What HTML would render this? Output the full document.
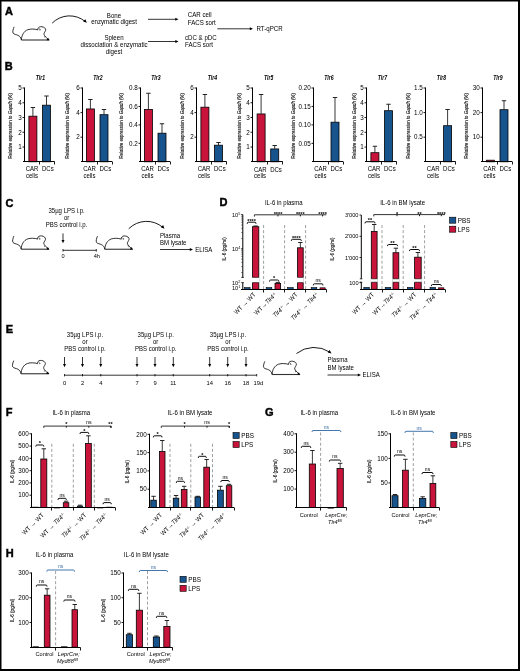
<!DOCTYPE html>
<html><head><meta charset="utf-8"><style>
html,body{margin:0;padding:0;background:#fff;}
svg{display:block;will-change:transform;}
svg text{font-family:"Liberation Sans", sans-serif;}
</style></head><body>
<svg width="520" height="671" viewBox="0 0 520 671" stroke="#000" stroke-width="0.8">
<defs><symbol id="mouse" overflow="visible"><path d="M1.2,0.4 C0.4,2 -0.6,5.5 0.2,6.6 C1.2,8 3.5,8 5.2,8.9 C6.8,9.8 8.2,11 8.5,13.5 M8.5,13.5 C8.6,9 11,4.5 15,3.2 C18,2.2 22,2.4 25,3.4 M25,3.4 C24.6,2 25.6,0.4 27.6,0.2 C29.6,0 31.8,0.8 32.6,2.4 C33.2,3.8 32.3,4.6 32,5.4 C31.2,6.6 30.6,7.6 31.6,9 C32.6,10.4 34.4,11.8 35.6,13.4 M26.2,2.3 C27.2,2.4 27.6,3.2 27,3.9 M31.4,10.2 L32.2,10.9" fill="none" stroke="#000" stroke-width="0.8"/><line x1="8.5" y1="13.5" x2="36.3" y2="13.5" stroke="#333" stroke-width="1.1"/><path d="M33.6,13.7 L36.7,13.7 L35.1,11.2 Z" fill="#000"/></symbol></defs>
<rect x="0" y="0" width="520" height="671" fill="#fff" stroke="none"/>
<g fill="#000" stroke="none" font-family="Liberation Sans, sans-serif">
<rect x="0" y="0" width="520" height="1.5" fill="#000"/>
<rect x="0" y="0" width="1.5" height="671" fill="#000"/>
<rect x="518" y="0" width="2" height="671" fill="#000"/>
<rect x="0" y="669" width="520" height="2" fill="#000"/>
<text x="5" y="14.6" font-size="11" font-weight="bold" stroke="#000" stroke-width="0.45">A</text>
<use href="#mouse" x="12.9" y="26.5"/>
<path d="M52.2,23.1 A24.5,24.5 0 0 1 85.2,21.5" stroke="#000" stroke-width="0.9" fill="none"/>
<path d="M86.8,22.8 L83.11,21.41 L85.36,19.13 Z" fill="#000" stroke="none"/>
<text transform="translate(114 17.5) scale(0.94 1)" font-size="6.53" text-anchor="middle">Bone</text>
<text transform="translate(114 24.3) scale(0.94 1)" font-size="6.53" text-anchor="middle">enzymatic digest</text>
<text transform="translate(114 39.6) scale(0.94 1)" font-size="6.53" text-anchor="middle">Spleen</text>
<text transform="translate(114 46.6) scale(0.94 1)" font-size="6.53" text-anchor="middle">dissociation &amp; enzymatic</text>
<text transform="translate(114 53.6) scale(0.94 1)" font-size="6.53" text-anchor="middle">digest</text>
<line stroke="#000" x1="148" y1="19.3" x2="176" y2="19.3"/>
<path d="M178.5,19.3 L175.3,17.8 L175.3,20.8 Z" fill="#000" stroke="none"/>
<line stroke="#000" x1="148" y1="41.5" x2="176" y2="41.5"/>
<path d="M178.5,41.5 L175.3,40 L175.3,43 Z" fill="#000" stroke="none"/>
<text transform="translate(187.8 17) scale(0.94 1)" font-size="6.53">CAR cell</text>
<text transform="translate(187.8 24.6) scale(0.94 1)" font-size="6.53">FACS sort</text>
<text transform="translate(185 39.6) scale(0.94 1)" font-size="6.53">cDC &amp; pDC</text>
<text transform="translate(185 47) scale(0.94 1)" font-size="6.53">FACS sort</text>
<line stroke="#000" x1="217.3" y1="28.8" x2="250.5" y2="28.8"/>
<path d="M253,28.8 L249.8,27.3 L249.8,30.3 Z" fill="#000" stroke="none"/>
<text transform="translate(256.5 31) scale(0.94 1)" font-size="6.53">RT-qPCR</text>
<text x="4.7" y="69.5" font-size="11" font-weight="bold" stroke="#000" stroke-width="0.45">B</text>
<text x="40.4" y="80.2" font-size="6.42" text-anchor="middle" font-weight="bold" font-style="italic" textLength="9.4" lengthAdjust="spacingAndGlyphs">Tlr1</text>
<text transform="translate(12.2 125.8) rotate(-90)" font-size="6.21" text-anchor="middle" stroke="#000" stroke-width="0.12" textLength="65.5" lengthAdjust="spacingAndGlyphs">Relative expression to <tspan font-style="italic">Gapdh</tspan> (%)</text>
<line x1="32.9" y1="116" x2="32.9" y2="107.5" stroke="#222" stroke-width="0.9"/>
<line x1="30.7" y1="107.5" x2="35.1" y2="107.5" stroke="#222" stroke-width="1"/>
<rect x="28.9" y="116.2" width="8" height="45.6" fill="#c8143a" stroke="#000" stroke-width="0.8"/>
<line x1="46.5" y1="105" x2="46.5" y2="96" stroke="#222" stroke-width="0.9"/>
<line x1="44.3" y1="96" x2="48.7" y2="96" stroke="#222" stroke-width="1"/>
<rect x="42.5" y="105.2" width="8" height="56.6" fill="#17548e" stroke="#000" stroke-width="0.8"/>
<line stroke="#000" x1="24.5" y1="87.5" x2="24.5" y2="161.8" stroke-width="1"/>
<line stroke="#000" x1="22.5" y1="88" x2="24.5" y2="88" stroke-width="0.9"/>
<text x="21.7" y="90.25" font-size="6.31" text-anchor="end">5</text>
<line stroke="#000" x1="22.5" y1="102.76" x2="24.5" y2="102.76" stroke-width="0.9"/>
<text x="21.7" y="105.01" font-size="6.31" text-anchor="end">4</text>
<line stroke="#000" x1="22.5" y1="117.52" x2="24.5" y2="117.52" stroke-width="0.9"/>
<text x="21.7" y="119.77" font-size="6.31" text-anchor="end">3</text>
<line stroke="#000" x1="22.5" y1="132.28" x2="24.5" y2="132.28" stroke-width="0.9"/>
<text x="21.7" y="134.53" font-size="6.31" text-anchor="end">2</text>
<line stroke="#000" x1="22.5" y1="147.04" x2="24.5" y2="147.04" stroke-width="0.9"/>
<text x="21.7" y="149.29" font-size="6.31" text-anchor="end">1</text>
<line stroke="#000" x1="23" y1="161.5" x2="54.5" y2="161.5" stroke-width="1"/>
<line stroke="#000" x1="39.5" y1="161.5" x2="39.5" y2="164.5" stroke-width="0.9"/>
<line stroke="#000" x1="54.5" y1="161.5" x2="54.5" y2="164.5" stroke-width="0.9"/>
<text transform="translate(32.1 170.7) scale(0.94 1)" font-size="6.42" text-anchor="middle">CAR</text>
<text transform="translate(47.8 170.7) scale(0.94 1)" font-size="6.42" text-anchor="middle">DCs</text>
<text transform="translate(31.9 177.6) scale(0.94 1)" font-size="6.42" text-anchor="middle">cells</text>
<text x="97.9" y="80.2" font-size="6.42" text-anchor="middle" font-weight="bold" font-style="italic" textLength="9.4" lengthAdjust="spacingAndGlyphs">Tlr2</text>
<text transform="translate(69.2 125.8) rotate(-90)" font-size="6.21" text-anchor="middle" stroke="#000" stroke-width="0.12" textLength="65.5" lengthAdjust="spacingAndGlyphs">Relative expression to <tspan font-style="italic">Gapdh</tspan> (%)</text>
<line x1="90.4" y1="108.75" x2="90.4" y2="99.5" stroke="#222" stroke-width="0.9"/>
<line x1="88.2" y1="99.5" x2="92.6" y2="99.5" stroke="#222" stroke-width="1"/>
<rect x="86.4" y="108.95" width="8" height="52.85" fill="#c8143a" stroke="#000" stroke-width="0.8"/>
<line x1="104" y1="114.5" x2="104" y2="109.5" stroke="#222" stroke-width="0.9"/>
<line x1="101.8" y1="109.5" x2="106.2" y2="109.5" stroke="#222" stroke-width="1"/>
<rect x="100" y="114.7" width="8" height="47.1" fill="#17548e" stroke="#000" stroke-width="0.8"/>
<line stroke="#000" x1="82.5" y1="87.5" x2="82.5" y2="161.8" stroke-width="1"/>
<line stroke="#000" x1="80.5" y1="88" x2="82.5" y2="88" stroke-width="0.9"/>
<text x="79.7" y="90.25" font-size="6.31" text-anchor="end">6</text>
<line stroke="#000" x1="80.5" y1="112.6" x2="82.5" y2="112.6" stroke-width="0.9"/>
<text x="79.7" y="114.85" font-size="6.31" text-anchor="end">4</text>
<line stroke="#000" x1="80.5" y1="137.2" x2="82.5" y2="137.2" stroke-width="0.9"/>
<text x="79.7" y="139.45" font-size="6.31" text-anchor="end">2</text>
<line stroke="#000" x1="81" y1="161.5" x2="112" y2="161.5" stroke-width="1"/>
<line stroke="#000" x1="97.5" y1="161.5" x2="97.5" y2="164.5" stroke-width="0.9"/>
<line stroke="#000" x1="112.5" y1="161.5" x2="112.5" y2="164.5" stroke-width="0.9"/>
<text transform="translate(89.6 170.7) scale(0.94 1)" font-size="6.42" text-anchor="middle">CAR</text>
<text transform="translate(105.3 170.7) scale(0.94 1)" font-size="6.42" text-anchor="middle">DCs</text>
<text transform="translate(89.4 177.6) scale(0.94 1)" font-size="6.42" text-anchor="middle">cells</text>
<text x="155.9" y="80.2" font-size="6.42" text-anchor="middle" font-weight="bold" font-style="italic" textLength="9.4" lengthAdjust="spacingAndGlyphs">Tlr3</text>
<text transform="translate(123 125.8) rotate(-90)" font-size="6.21" text-anchor="middle" stroke="#000" stroke-width="0.12" textLength="65.5" lengthAdjust="spacingAndGlyphs">Relative expression to <tspan font-style="italic">Gapdh</tspan> (%)</text>
<line x1="148.4" y1="109.25" x2="148.4" y2="93.25" stroke="#222" stroke-width="0.9"/>
<line x1="146.2" y1="93.25" x2="150.6" y2="93.25" stroke="#222" stroke-width="1"/>
<rect x="144.4" y="109.45" width="8" height="52.35" fill="#c8143a" stroke="#000" stroke-width="0.8"/>
<line x1="162" y1="133" x2="162" y2="123.75" stroke="#222" stroke-width="0.9"/>
<line x1="159.8" y1="123.75" x2="164.2" y2="123.75" stroke="#222" stroke-width="1"/>
<rect x="158" y="133.2" width="8" height="28.6" fill="#17548e" stroke="#000" stroke-width="0.8"/>
<line stroke="#000" x1="140.5" y1="87.5" x2="140.5" y2="161.8" stroke-width="1"/>
<line stroke="#000" x1="138.5" y1="88" x2="140.5" y2="88" stroke-width="0.9"/>
<text x="137.7" y="90.25" font-size="6.31" text-anchor="end">0.8</text>
<line stroke="#000" x1="138.5" y1="106.45" x2="140.5" y2="106.45" stroke-width="0.9"/>
<text x="137.7" y="108.7" font-size="6.31" text-anchor="end">0.6</text>
<line stroke="#000" x1="138.5" y1="124.9" x2="140.5" y2="124.9" stroke-width="0.9"/>
<text x="137.7" y="127.15" font-size="6.31" text-anchor="end">0.4</text>
<line stroke="#000" x1="138.5" y1="143.35" x2="140.5" y2="143.35" stroke-width="0.9"/>
<text x="137.7" y="145.6" font-size="6.31" text-anchor="end">0.2</text>
<line stroke="#000" x1="139" y1="161.5" x2="170" y2="161.5" stroke-width="1"/>
<line stroke="#000" x1="155.5" y1="161.5" x2="155.5" y2="164.5" stroke-width="0.9"/>
<line stroke="#000" x1="170.5" y1="161.5" x2="170.5" y2="164.5" stroke-width="0.9"/>
<text transform="translate(147.6 170.7) scale(0.94 1)" font-size="6.42" text-anchor="middle">CAR</text>
<text transform="translate(163.3 170.7) scale(0.94 1)" font-size="6.42" text-anchor="middle">DCs</text>
<text transform="translate(147.4 177.6) scale(0.94 1)" font-size="6.42" text-anchor="middle">cells</text>
<text x="212.4" y="80.2" font-size="6.42" text-anchor="middle" font-weight="bold" font-style="italic" textLength="9.4" lengthAdjust="spacingAndGlyphs">Tlr4</text>
<text transform="translate(184.3 125.8) rotate(-90)" font-size="6.21" text-anchor="middle" stroke="#000" stroke-width="0.12" textLength="65.5" lengthAdjust="spacingAndGlyphs">Relative expression to <tspan font-style="italic">Gapdh</tspan> (%)</text>
<line x1="204.9" y1="107" x2="204.9" y2="94.5" stroke="#222" stroke-width="0.9"/>
<line x1="202.7" y1="94.5" x2="207.1" y2="94.5" stroke="#222" stroke-width="1"/>
<rect x="200.9" y="107.2" width="8" height="54.6" fill="#c8143a" stroke="#000" stroke-width="0.8"/>
<line x1="218.5" y1="145" x2="218.5" y2="142.5" stroke="#222" stroke-width="0.9"/>
<line x1="216.3" y1="142.5" x2="220.7" y2="142.5" stroke="#222" stroke-width="1"/>
<rect x="214.5" y="145.2" width="8" height="16.6" fill="#17548e" stroke="#000" stroke-width="0.8"/>
<line stroke="#000" x1="196.5" y1="87.5" x2="196.5" y2="161.8" stroke-width="1"/>
<line stroke="#000" x1="194.5" y1="88" x2="196.5" y2="88" stroke-width="0.9"/>
<text x="193.7" y="90.25" font-size="6.31" text-anchor="end">6</text>
<line stroke="#000" x1="194.5" y1="112.6" x2="196.5" y2="112.6" stroke-width="0.9"/>
<text x="193.7" y="114.85" font-size="6.31" text-anchor="end">4</text>
<line stroke="#000" x1="194.5" y1="137.2" x2="196.5" y2="137.2" stroke-width="0.9"/>
<text x="193.7" y="139.45" font-size="6.31" text-anchor="end">2</text>
<line stroke="#000" x1="195" y1="161.5" x2="226.5" y2="161.5" stroke-width="1"/>
<line stroke="#000" x1="211.5" y1="161.5" x2="211.5" y2="164.5" stroke-width="0.9"/>
<line stroke="#000" x1="226.5" y1="161.5" x2="226.5" y2="164.5" stroke-width="0.9"/>
<text transform="translate(204.1 170.7) scale(0.94 1)" font-size="6.42" text-anchor="middle">CAR</text>
<text transform="translate(219.8 170.7) scale(0.94 1)" font-size="6.42" text-anchor="middle">DCs</text>
<text transform="translate(203.9 177.6) scale(0.94 1)" font-size="6.42" text-anchor="middle">cells</text>
<text x="268.6" y="80.2" font-size="6.42" text-anchor="middle" font-weight="bold" font-style="italic" textLength="9.4" lengthAdjust="spacingAndGlyphs">Tlr5</text>
<text transform="translate(241.2 125.8) rotate(-90)" font-size="6.21" text-anchor="middle" stroke="#000" stroke-width="0.12" textLength="65.5" lengthAdjust="spacingAndGlyphs">Relative expression to <tspan font-style="italic">Gapdh</tspan> (%)</text>
<line x1="261.1" y1="113.75" x2="261.1" y2="94.5" stroke="#222" stroke-width="0.9"/>
<line x1="258.9" y1="94.5" x2="263.3" y2="94.5" stroke="#222" stroke-width="1"/>
<rect x="257.1" y="113.95" width="8" height="47.85" fill="#c8143a" stroke="#000" stroke-width="0.8"/>
<line x1="274.7" y1="148.75" x2="274.7" y2="145.5" stroke="#222" stroke-width="0.9"/>
<line x1="272.5" y1="145.5" x2="276.9" y2="145.5" stroke="#222" stroke-width="1"/>
<rect x="270.7" y="148.95" width="8" height="12.85" fill="#17548e" stroke="#000" stroke-width="0.8"/>
<line stroke="#000" x1="252.5" y1="87.5" x2="252.5" y2="161.8" stroke-width="1"/>
<line stroke="#000" x1="250.5" y1="88" x2="252.5" y2="88" stroke-width="0.9"/>
<text x="249.7" y="90.25" font-size="6.31" text-anchor="end">5</text>
<line stroke="#000" x1="250.5" y1="102.76" x2="252.5" y2="102.76" stroke-width="0.9"/>
<text x="249.7" y="105.01" font-size="6.31" text-anchor="end">4</text>
<line stroke="#000" x1="250.5" y1="117.52" x2="252.5" y2="117.52" stroke-width="0.9"/>
<text x="249.7" y="119.77" font-size="6.31" text-anchor="end">3</text>
<line stroke="#000" x1="250.5" y1="132.28" x2="252.5" y2="132.28" stroke-width="0.9"/>
<text x="249.7" y="134.53" font-size="6.31" text-anchor="end">2</text>
<line stroke="#000" x1="250.5" y1="147.04" x2="252.5" y2="147.04" stroke-width="0.9"/>
<text x="249.7" y="149.29" font-size="6.31" text-anchor="end">1</text>
<line stroke="#000" x1="251" y1="161.5" x2="282.7" y2="161.5" stroke-width="1"/>
<line stroke="#000" x1="267.5" y1="161.5" x2="267.5" y2="164.5" stroke-width="0.9"/>
<line stroke="#000" x1="282.5" y1="161.5" x2="282.5" y2="164.5" stroke-width="0.9"/>
<text transform="translate(260.3 171.5) scale(0.94 1)" font-size="6.42" text-anchor="middle">CAR</text>
<text transform="translate(276 171.5) scale(0.94 1)" font-size="6.42" text-anchor="middle">DCs</text>
<text transform="translate(260.1 178.4) scale(0.94 1)" font-size="6.42" text-anchor="middle">cells</text>
<text x="328.9" y="80.2" font-size="6.42" text-anchor="middle" font-weight="bold" font-style="italic" textLength="9.4" lengthAdjust="spacingAndGlyphs">Tlr6</text>
<text transform="translate(295 125.8) rotate(-90)" font-size="6.21" text-anchor="middle" stroke="#000" stroke-width="0.12" textLength="65.5" lengthAdjust="spacingAndGlyphs">Relative expression to <tspan font-style="italic">Gapdh</tspan> (%)</text>
<line x1="335" y1="122" x2="335" y2="97.5" stroke="#222" stroke-width="0.9"/>
<line x1="332.8" y1="97.5" x2="337.2" y2="97.5" stroke="#222" stroke-width="1"/>
<rect x="331" y="122.2" width="8" height="39.6" fill="#17548e" stroke="#000" stroke-width="0.8"/>
<line stroke="#000" x1="313.5" y1="87.5" x2="313.5" y2="161.8" stroke-width="1"/>
<line stroke="#000" x1="311.5" y1="88" x2="313.5" y2="88" stroke-width="0.9"/>
<text x="310.7" y="90.25" font-size="6.31" text-anchor="end">0.20</text>
<line stroke="#000" x1="311.5" y1="106.45" x2="313.5" y2="106.45" stroke-width="0.9"/>
<text x="310.7" y="108.7" font-size="6.31" text-anchor="end">0.15</text>
<line stroke="#000" x1="311.5" y1="124.9" x2="313.5" y2="124.9" stroke-width="0.9"/>
<text x="310.7" y="127.15" font-size="6.31" text-anchor="end">0.10</text>
<line stroke="#000" x1="311.5" y1="143.35" x2="313.5" y2="143.35" stroke-width="0.9"/>
<text x="310.7" y="145.6" font-size="6.31" text-anchor="end">0.05</text>
<line stroke="#000" x1="312" y1="161.5" x2="343" y2="161.5" stroke-width="1"/>
<line stroke="#000" x1="328.5" y1="161.5" x2="328.5" y2="164.5" stroke-width="0.9"/>
<line stroke="#000" x1="343.5" y1="161.5" x2="343.5" y2="164.5" stroke-width="0.9"/>
<text transform="translate(320.6 170.7) scale(0.94 1)" font-size="6.42" text-anchor="middle">CAR</text>
<text transform="translate(336.3 170.7) scale(0.94 1)" font-size="6.42" text-anchor="middle">DCs</text>
<text transform="translate(320.4 177.6) scale(0.94 1)" font-size="6.42" text-anchor="middle">cells</text>
<text x="382.4" y="80.2" font-size="6.42" text-anchor="middle" font-weight="bold" font-style="italic" textLength="9.4" lengthAdjust="spacingAndGlyphs">Tlr7</text>
<text transform="translate(355.7 125.8) rotate(-90)" font-size="6.21" text-anchor="middle" stroke="#000" stroke-width="0.12" textLength="65.5" lengthAdjust="spacingAndGlyphs">Relative expression to <tspan font-style="italic">Gapdh</tspan> (%)</text>
<line x1="374.9" y1="152.5" x2="374.9" y2="146.25" stroke="#222" stroke-width="0.9"/>
<line x1="372.7" y1="146.25" x2="377.1" y2="146.25" stroke="#222" stroke-width="1"/>
<rect x="370.9" y="152.7" width="8" height="9.1" fill="#c8143a" stroke="#000" stroke-width="0.8"/>
<line x1="388.5" y1="110.5" x2="388.5" y2="104.25" stroke="#222" stroke-width="0.9"/>
<line x1="386.3" y1="104.25" x2="390.7" y2="104.25" stroke="#222" stroke-width="1"/>
<rect x="384.5" y="110.7" width="8" height="51.1" fill="#17548e" stroke="#000" stroke-width="0.8"/>
<line stroke="#000" x1="366.5" y1="87.5" x2="366.5" y2="161.8" stroke-width="1"/>
<line stroke="#000" x1="364.5" y1="88" x2="366.5" y2="88" stroke-width="0.9"/>
<text x="363.7" y="90.25" font-size="6.31" text-anchor="end">5</text>
<line stroke="#000" x1="364.5" y1="102.76" x2="366.5" y2="102.76" stroke-width="0.9"/>
<text x="363.7" y="105.01" font-size="6.31" text-anchor="end">4</text>
<line stroke="#000" x1="364.5" y1="117.52" x2="366.5" y2="117.52" stroke-width="0.9"/>
<text x="363.7" y="119.77" font-size="6.31" text-anchor="end">3</text>
<line stroke="#000" x1="364.5" y1="132.28" x2="366.5" y2="132.28" stroke-width="0.9"/>
<text x="363.7" y="134.53" font-size="6.31" text-anchor="end">2</text>
<line stroke="#000" x1="364.5" y1="147.04" x2="366.5" y2="147.04" stroke-width="0.9"/>
<text x="363.7" y="149.29" font-size="6.31" text-anchor="end">1</text>
<line stroke="#000" x1="365" y1="161.5" x2="396.5" y2="161.5" stroke-width="1"/>
<line stroke="#000" x1="381.5" y1="161.5" x2="381.5" y2="164.5" stroke-width="0.9"/>
<line stroke="#000" x1="396.5" y1="161.5" x2="396.5" y2="164.5" stroke-width="0.9"/>
<text transform="translate(374.1 170.7) scale(0.94 1)" font-size="6.42" text-anchor="middle">CAR</text>
<text transform="translate(389.8 170.7) scale(0.94 1)" font-size="6.42" text-anchor="middle">DCs</text>
<text transform="translate(373.9 177.6) scale(0.94 1)" font-size="6.42" text-anchor="middle">cells</text>
<text x="441.5" y="80.2" font-size="6.42" text-anchor="middle" font-weight="bold" font-style="italic" textLength="9.4" lengthAdjust="spacingAndGlyphs">Tlr8</text>
<text transform="translate(410 125.8) rotate(-90)" font-size="6.21" text-anchor="middle" stroke="#000" stroke-width="0.12" textLength="65.5" lengthAdjust="spacingAndGlyphs">Relative expression to <tspan font-style="italic">Gapdh</tspan> (%)</text>
<line x1="447.6" y1="125.5" x2="447.6" y2="109.5" stroke="#222" stroke-width="0.9"/>
<line x1="445.4" y1="109.5" x2="449.8" y2="109.5" stroke="#222" stroke-width="1"/>
<rect x="443.6" y="125.7" width="8" height="36.1" fill="#17548e" stroke="#000" stroke-width="0.8"/>
<line stroke="#000" x1="425.5" y1="87.5" x2="425.5" y2="161.8" stroke-width="1"/>
<line stroke="#000" x1="423.5" y1="88" x2="425.5" y2="88" stroke-width="0.9"/>
<text x="422.7" y="90.25" font-size="6.31" text-anchor="end">1.5</text>
<line stroke="#000" x1="423.5" y1="112.6" x2="425.5" y2="112.6" stroke-width="0.9"/>
<text x="422.7" y="114.85" font-size="6.31" text-anchor="end">1.0</text>
<line stroke="#000" x1="423.5" y1="137.2" x2="425.5" y2="137.2" stroke-width="0.9"/>
<text x="422.7" y="139.45" font-size="6.31" text-anchor="end">0.5</text>
<line stroke="#000" x1="424" y1="161.5" x2="455.6" y2="161.5" stroke-width="1"/>
<line stroke="#000" x1="440.5" y1="161.5" x2="440.5" y2="164.5" stroke-width="0.9"/>
<line stroke="#000" x1="455.5" y1="161.5" x2="455.5" y2="164.5" stroke-width="0.9"/>
<text transform="translate(433.2 170.7) scale(0.94 1)" font-size="6.42" text-anchor="middle">CAR</text>
<text transform="translate(448.9 170.7) scale(0.94 1)" font-size="6.42" text-anchor="middle">DCs</text>
<text transform="translate(433 177.6) scale(0.94 1)" font-size="6.42" text-anchor="middle">cells</text>
<text x="497.9" y="80.2" font-size="6.42" text-anchor="middle" font-weight="bold" font-style="italic" textLength="9.4" lengthAdjust="spacingAndGlyphs">Tlr9</text>
<text transform="translate(467.5 125.8) rotate(-90)" font-size="6.21" text-anchor="middle" stroke="#000" stroke-width="0.12" textLength="65.5" lengthAdjust="spacingAndGlyphs">Relative expression to <tspan font-style="italic">Gapdh</tspan> (%)</text>
<rect x="486.4" y="160.2" width="8" height="1.6" fill="#c8143a" stroke="#000" stroke-width="0.8"/>
<line x1="504" y1="109.5" x2="504" y2="100.75" stroke="#222" stroke-width="0.9"/>
<line x1="501.8" y1="100.75" x2="506.2" y2="100.75" stroke="#222" stroke-width="1"/>
<rect x="500" y="109.7" width="8" height="52.1" fill="#17548e" stroke="#000" stroke-width="0.8"/>
<line stroke="#000" x1="482.5" y1="87.5" x2="482.5" y2="161.8" stroke-width="1"/>
<line stroke="#000" x1="480.5" y1="88" x2="482.5" y2="88" stroke-width="0.9"/>
<text x="479.7" y="90.25" font-size="6.31" text-anchor="end">30</text>
<line stroke="#000" x1="480.5" y1="112.6" x2="482.5" y2="112.6" stroke-width="0.9"/>
<text x="479.7" y="114.85" font-size="6.31" text-anchor="end">20</text>
<line stroke="#000" x1="480.5" y1="137.2" x2="482.5" y2="137.2" stroke-width="0.9"/>
<text x="479.7" y="139.45" font-size="6.31" text-anchor="end">10</text>
<line stroke="#000" x1="481" y1="161.5" x2="512" y2="161.5" stroke-width="1"/>
<line stroke="#000" x1="497.5" y1="161.5" x2="497.5" y2="164.5" stroke-width="0.9"/>
<line stroke="#000" x1="512.5" y1="161.5" x2="512.5" y2="164.5" stroke-width="0.9"/>
<text transform="translate(489.6 170.7) scale(0.94 1)" font-size="6.42" text-anchor="middle">CAR</text>
<text transform="translate(505.3 170.7) scale(0.94 1)" font-size="6.42" text-anchor="middle">DCs</text>
<text transform="translate(489.4 177.6) scale(0.94 1)" font-size="6.42" text-anchor="middle">cells</text>
<text x="5.5" y="206.5" font-size="11" font-weight="bold" stroke="#000" stroke-width="0.45">C</text>
<use href="#mouse" x="12.7" y="235.7"/>
<use href="#mouse" x="96.3" y="235.75"/>
<text transform="translate(66.6 213.1) scale(0.94 1)" font-size="6.42" text-anchor="middle">35µg LPS i.p.</text>
<text transform="translate(66.6 220.2) scale(0.94 1)" font-size="6.42" text-anchor="middle">or</text>
<text transform="translate(66.6 227.1) scale(0.94 1)" font-size="6.42" text-anchor="middle">PBS control i.p.</text>
<line stroke="#000" x1="63" y1="233.4" x2="63" y2="240.8"/>
<path d="M63,243.3 L61.5,240.1 L64.5,240.1 Z" fill="#000" stroke="none"/>
<line stroke="#000" x1="63" y1="250.3" x2="96.3" y2="250.3"/>
<line stroke="#000" x1="63" y1="249" x2="63" y2="251.6"/>
<line stroke="#000" x1="96.3" y1="249" x2="96.3" y2="251.6"/>
<text transform="translate(63 257.7) scale(0.94 1)" font-size="5.99" text-anchor="middle">0</text>
<text transform="translate(96.8 257.7) scale(0.94 1)" font-size="5.99" text-anchor="middle">4h</text>
<path d="M128.75,228.75 A25.05,25.05 0 0 1 162.9,227.45" stroke="#000" stroke-width="0.9" fill="none"/>
<path d="M164.5,228.75 L160.84,227.3 L163.12,225.06 Z" fill="#000" stroke="none"/>
<text transform="translate(160 237.6) scale(0.94 1)" font-size="6.42">Plasma</text>
<text transform="translate(160 244.6) scale(0.94 1)" font-size="6.42">BM lysate</text>
<line stroke="#000" x1="160" y1="249.5" x2="190.5" y2="249.5"/>
<path d="M193,249.5 L189.8,248 L189.8,251 Z" fill="#000" stroke="none"/>
<text transform="translate(195.2 251.6) scale(0.94 1)" font-size="6.42">ELISA</text>
<text x="219.5" y="206.3" font-size="11" font-weight="bold" stroke="#000" stroke-width="0.45">D</text>
<text transform="translate(283.8 204.7) scale(0.94 1)" font-size="6.42" text-anchor="middle">IL-6 in plasma</text>
<text transform="translate(225.6 249) rotate(-90)" font-size="6.21" text-anchor="middle" stroke="#000" stroke-width="0.12" textLength="23.4" lengthAdjust="spacingAndGlyphs">IL-6 (pg/ml)</text>
<line x1="263.6" y1="225" x2="263.6" y2="289" stroke="#888" stroke-dasharray="3,2.1"/>
<line x1="284.6" y1="225" x2="284.6" y2="289" stroke="#888" stroke-dasharray="3,2.1"/>
<line x1="305.6" y1="225" x2="305.6" y2="289" stroke="#888" stroke-dasharray="3,2.1"/>
<rect x="244.5" y="287.6" width="5.6" height="1.7" fill="#17548e" stroke="#000" stroke-width="0.6"/>
<rect x="266.2" y="287.6" width="5.6" height="1.7" fill="#17548e" stroke="#000" stroke-width="0.6"/>
<rect x="287.6" y="287.6" width="5.6" height="1.7" fill="#17548e" stroke="#000" stroke-width="0.6"/>
<rect x="311.2" y="287.6" width="5.6" height="1.7" fill="#17548e" stroke="#000" stroke-width="0.6"/>
<line x1="255.6" y1="226.5" x2="255.6" y2="226" stroke="#222" stroke-width="0.9"/>
<line x1="253.4" y1="226" x2="257.8" y2="226" stroke="#222" stroke-width="1"/>
<rect x="252.4" y="226.7" width="6.4" height="62.6" fill="#c8143a" stroke="#000" stroke-width="0.8"/>
<rect x="251.8" y="277.4" width="7.6" height="5.2" fill="#fff" stroke="none"/>
<line stroke="#000" x1="252.4" y1="277.4" x2="258.8" y2="277.4" stroke-width="0.6"/>
<line stroke="#000" x1="252.4" y1="282.6" x2="258.8" y2="282.6" stroke-width="0.6"/>
<line x1="277.8" y1="283.2" x2="277.8" y2="282.4" stroke="#222" stroke-width="0.9"/>
<line x1="275.6" y1="282.4" x2="280" y2="282.4" stroke="#222" stroke-width="1"/>
<rect x="275" y="283.4" width="5.6" height="5.9" fill="#c8143a" stroke="#000" stroke-width="0.8"/>
<line x1="300.35" y1="247.6" x2="300.35" y2="242.5" stroke="#222" stroke-width="0.9"/>
<line x1="298.15" y1="242.5" x2="302.55" y2="242.5" stroke="#222" stroke-width="1"/>
<rect x="297.5" y="247.8" width="5.7" height="41.5" fill="#c8143a" stroke="#000" stroke-width="0.8"/>
<rect x="296.9" y="277.4" width="6.9" height="5.2" fill="#fff" stroke="none"/>
<line stroke="#000" x1="297.5" y1="277.4" x2="303.2" y2="277.4" stroke-width="0.6"/>
<line stroke="#000" x1="297.5" y1="282.6" x2="303.2" y2="282.6" stroke-width="0.6"/>
<rect x="320" y="287.8" width="5.2" height="1.5" fill="#c8143a" stroke="#000" stroke-width="0.6"/>
<line stroke="#000" x1="242.8" y1="214.5" x2="242.8" y2="277.4" stroke-width="1"/>
<line stroke="#000" x1="242.8" y1="282.6" x2="242.8" y2="289.3" stroke-width="1"/>
<line stroke="#000" x1="241.3" y1="277.4" x2="243.8" y2="277.4"/>
<line stroke="#000" x1="241.3" y1="282.6" x2="243.8" y2="282.6"/>
<line stroke="#000" x1="241" y1="214.7" x2="242.8" y2="214.7"/>
<text transform="translate(238.2 216.7) scale(0.94 1)" font-size="5.99" text-anchor="end">10</text>
<text transform="translate(238.3 214.5) scale(0.94 1)" font-size="4.07">5</text>
<line stroke="#000" x1="241" y1="248.8" x2="242.8" y2="248.8"/>
<text transform="translate(238.2 250.8) scale(0.94 1)" font-size="5.99" text-anchor="end">10</text>
<text transform="translate(238.3 248.6) scale(0.94 1)" font-size="4.07">4</text>
<text transform="translate(238.2 284.8) scale(0.94 1)" font-size="5.99" text-anchor="end">10</text>
<text transform="translate(238.3 282.6) scale(0.94 1)" font-size="4.07">2</text>
<text transform="translate(238.2 290.2) scale(0.94 1)" font-size="5.99" text-anchor="end">10</text>
<text transform="translate(238.3 288) scale(0.94 1)" font-size="4.07">1</text>
<line stroke="#000" x1="241" y1="289.5" x2="326.4" y2="289.5" stroke-width="1"/>
<line stroke="#000" x1="263.5" y1="289.5" x2="263.5" y2="292.5" stroke-width="0.9"/>
<line stroke="#000" x1="284.5" y1="289.5" x2="284.5" y2="292.5" stroke-width="0.9"/>
<line stroke="#000" x1="305.5" y1="289.5" x2="305.5" y2="292.5" stroke-width="0.9"/>
<line stroke="#000" x1="326.5" y1="289.5" x2="326.5" y2="292.5" stroke-width="0.9"/>
<line stroke="#000" x1="241.3" y1="238.56" x2="242.5" y2="238.56" stroke-width="0.6"/>
<line stroke="#000" x1="241.3" y1="272.56" x2="242.5" y2="272.56" stroke-width="0.6"/>
<line stroke="#000" x1="241.3" y1="232.58" x2="242.5" y2="232.58" stroke-width="0.6"/>
<line stroke="#000" x1="241.3" y1="266.58" x2="242.5" y2="266.58" stroke-width="0.6"/>
<line stroke="#000" x1="241.3" y1="228.33" x2="242.5" y2="228.33" stroke-width="0.6"/>
<line stroke="#000" x1="241.3" y1="262.33" x2="242.5" y2="262.33" stroke-width="0.6"/>
<line stroke="#000" x1="241.3" y1="225.04" x2="242.5" y2="225.04" stroke-width="0.6"/>
<line stroke="#000" x1="241.3" y1="259.04" x2="242.5" y2="259.04" stroke-width="0.6"/>
<line stroke="#000" x1="241.3" y1="222.34" x2="242.5" y2="222.34" stroke-width="0.6"/>
<line stroke="#000" x1="241.3" y1="256.34" x2="242.5" y2="256.34" stroke-width="0.6"/>
<line stroke="#000" x1="241.3" y1="220.07" x2="242.5" y2="220.07" stroke-width="0.6"/>
<line stroke="#000" x1="241.3" y1="254.07" x2="242.5" y2="254.07" stroke-width="0.6"/>
<line stroke="#000" x1="241.3" y1="218.09" x2="242.5" y2="218.09" stroke-width="0.6"/>
<line stroke="#000" x1="241.3" y1="252.09" x2="242.5" y2="252.09" stroke-width="0.6"/>
<line stroke="#000" x1="241.3" y1="216.36" x2="242.5" y2="216.36" stroke-width="0.6"/>
<line stroke="#000" x1="241.3" y1="250.36" x2="242.5" y2="250.36" stroke-width="0.6"/>
<path d="M247.2,223.8 Q247.2,222.2 248.2,222.2 L255,222.2 Q256,222.2 256,223.8" stroke="#000" stroke-width="0.95" fill="none"/>
<text transform="translate(251.6 222.6) scale(0.94 1)" font-size="5.99" text-anchor="middle" font-weight="bold">****</text>
<path d="M269.5,281.6 Q269.5,280 270.5,280 L277.8,280 Q278.8,280 278.8,281.6" stroke="#000" stroke-width="0.95" fill="none"/>
<text transform="translate(274.15 280.4) scale(0.94 1)" font-size="5.99" text-anchor="middle" font-weight="bold">*</text>
<path d="M291.3,240.9 Q291.3,239.3 292.3,239.3 L300.3,239.3 Q301.3,239.3 301.3,240.9" stroke="#000" stroke-width="0.95" fill="none"/>
<text transform="translate(296.3 239.7) scale(0.94 1)" font-size="5.99" text-anchor="middle" font-weight="bold">****</text>
<path d="M313.3,285.4 Q313.3,283.8 314.3,283.8 L322,283.8 Q323,283.8 323,285.4" stroke="#000" stroke-width="0.95" fill="none"/>
<text transform="translate(318.15 282.1) scale(0.94 1)" font-size="5.35" text-anchor="middle">ns</text>
<path d="M254.4,216.6 L254.4,214.8 L326.3,214.8" stroke="#333" stroke-width="1" fill="none"/>
<line stroke="#000" x1="278" y1="214.8" x2="278" y2="216.4" stroke-width="0.9"/>
<text transform="translate(278 215.8) scale(0.94 1)" font-size="5.99" text-anchor="middle" font-weight="bold">****</text>
<line stroke="#000" x1="300.3" y1="214.8" x2="300.3" y2="216.4" stroke-width="0.9"/>
<text transform="translate(300.3 215.8) scale(0.94 1)" font-size="5.99" text-anchor="middle" font-weight="bold">****</text>
<line stroke="#000" x1="322.6" y1="214.8" x2="322.6" y2="216.4" stroke-width="0.9"/>
<text transform="translate(322.6 215.8) scale(0.94 1)" font-size="5.99" text-anchor="middle" font-weight="bold">****</text>
<text transform="translate(256.2 295) rotate(-45) scale(0.94 1)" font-size="6.42" text-anchor="end">WT <tspan font-weight="bold">→</tspan> WT</text>
<text transform="translate(277.1 295) rotate(-45) scale(0.94 1)" font-size="6.42" text-anchor="end">WT<tspan font-weight="bold">→</tspan><tspan font-style="italic">Tlr4</tspan><tspan font-size="3.6" dy="-2">-/-</tspan></text>
<text transform="translate(298.1 295) rotate(-45) scale(0.94 1)" font-size="6.42" text-anchor="end"><tspan font-style="italic">Tlr4</tspan><tspan font-size="3.6" dy="-2">-/-</tspan><tspan dy="2"> </tspan><tspan font-weight="bold">→</tspan> WT</text>
<text transform="translate(319 295) rotate(-45) scale(0.94 1)" font-size="6.42" text-anchor="end"><tspan font-style="italic">Tlr4</tspan><tspan font-size="3.6" dy="-2">-/-</tspan><tspan dy="2"> </tspan><tspan font-weight="bold">→</tspan> <tspan font-style="italic">Tlr4</tspan><tspan font-size="3.6" dy="-2">-/-</tspan></text>
<text transform="translate(402.6 204.6) scale(0.94 1)" font-size="6.42" text-anchor="middle">IL-6 in BM lysate</text>
<text transform="translate(334.2 249.1) rotate(-90)" font-size="6.21" text-anchor="middle" stroke="#000" stroke-width="0.12" textLength="23.4" lengthAdjust="spacingAndGlyphs">IL-6 (pg/ml)</text>
<line x1="382" y1="225" x2="382" y2="289" stroke="#888" stroke-dasharray="3,2.1"/>
<line x1="403.2" y1="225" x2="403.2" y2="289" stroke="#888" stroke-dasharray="3,2.1"/>
<line x1="424.6" y1="225" x2="424.6" y2="289" stroke="#888" stroke-dasharray="3,2.1"/>
<rect x="363.8" y="287.4" width="5.6" height="1.9" fill="#17548e" stroke="#000" stroke-width="0.6"/>
<rect x="385.2" y="287.4" width="5.6" height="1.9" fill="#17548e" stroke="#000" stroke-width="0.6"/>
<rect x="407.4" y="287.4" width="5.6" height="1.9" fill="#17548e" stroke="#000" stroke-width="0.6"/>
<rect x="430" y="287.4" width="5.6" height="1.9" fill="#17548e" stroke="#000" stroke-width="0.6"/>
<line x1="374.2" y1="231.3" x2="374.2" y2="224.5" stroke="#222" stroke-width="0.9"/>
<line x1="372" y1="224.5" x2="376.4" y2="224.5" stroke="#222" stroke-width="1"/>
<rect x="371.3" y="231.5" width="5.8" height="57.8" fill="#c8143a" stroke="#000" stroke-width="0.8"/>
<rect x="370.7" y="278.8" width="7" height="3.4" fill="#fff" stroke="none"/>
<line stroke="#000" x1="371.3" y1="278.8" x2="377.1" y2="278.8" stroke-width="0.6"/>
<line stroke="#000" x1="371.3" y1="282.2" x2="377.1" y2="282.2" stroke-width="0.6"/>
<line x1="395.9" y1="252.5" x2="395.9" y2="248.2" stroke="#222" stroke-width="0.9"/>
<line x1="393.7" y1="248.2" x2="398.1" y2="248.2" stroke="#222" stroke-width="1"/>
<rect x="393" y="252.7" width="5.8" height="36.6" fill="#c8143a" stroke="#000" stroke-width="0.8"/>
<rect x="392.4" y="278.8" width="7" height="3.4" fill="#fff" stroke="none"/>
<line stroke="#000" x1="393" y1="278.8" x2="398.8" y2="278.8" stroke-width="0.6"/>
<line stroke="#000" x1="393" y1="282.2" x2="398.8" y2="282.2" stroke-width="0.6"/>
<line x1="417.9" y1="257" x2="417.9" y2="252.5" stroke="#222" stroke-width="0.9"/>
<line x1="415.7" y1="252.5" x2="420.1" y2="252.5" stroke="#222" stroke-width="1"/>
<rect x="414.6" y="257.2" width="6.6" height="32.1" fill="#c8143a" stroke="#000" stroke-width="0.8"/>
<rect x="414" y="278.8" width="7.8" height="3.4" fill="#fff" stroke="none"/>
<line stroke="#000" x1="414.6" y1="278.8" x2="421.2" y2="278.8" stroke-width="0.6"/>
<line stroke="#000" x1="414.6" y1="282.2" x2="421.2" y2="282.2" stroke-width="0.6"/>
<rect x="438.3" y="287.8" width="5.6" height="1.5" fill="#c8143a" stroke="#000" stroke-width="0.6"/>
<line stroke="#000" x1="361.3" y1="215" x2="361.3" y2="278.8" stroke-width="1"/>
<line stroke="#000" x1="361.3" y1="282.2" x2="361.3" y2="289.3" stroke-width="1"/>
<line stroke="#000" x1="359.8" y1="278.8" x2="362.3" y2="278.8"/>
<line stroke="#000" x1="359.8" y1="282.2" x2="362.3" y2="282.2"/>
<line stroke="#000" x1="359.5" y1="215" x2="361.3" y2="215"/>
<text transform="translate(358.5 217) scale(0.94 1)" font-size="5.99" text-anchor="end">3'000</text>
<line stroke="#000" x1="359.5" y1="236.3" x2="361.3" y2="236.3"/>
<text transform="translate(358.5 238.3) scale(0.94 1)" font-size="5.99" text-anchor="end">2'000</text>
<line stroke="#000" x1="359.5" y1="257.5" x2="361.3" y2="257.5"/>
<text transform="translate(358.5 259.5) scale(0.94 1)" font-size="5.99" text-anchor="end">1'000</text>
<line stroke="#000" x1="359.5" y1="282.6" x2="361.3" y2="282.6"/>
<text transform="translate(358.5 284.6) scale(0.94 1)" font-size="5.99" text-anchor="end">100</text>
<line stroke="#000" x1="360" y1="289.5" x2="445.2" y2="289.5" stroke-width="1"/>
<line stroke="#000" x1="382.5" y1="289.5" x2="382.5" y2="292.5" stroke-width="0.9"/>
<line stroke="#000" x1="403.5" y1="289.5" x2="403.5" y2="292.5" stroke-width="0.9"/>
<line stroke="#000" x1="424.5" y1="289.5" x2="424.5" y2="292.5" stroke-width="0.9"/>
<line stroke="#000" x1="445.5" y1="289.5" x2="445.5" y2="292.5" stroke-width="0.9"/>
<path d="M365,223.4 Q365,221.8 366,221.8 L374,221.8 Q375,221.8 375,223.4" stroke="#000" stroke-width="0.95" fill="none"/>
<text transform="translate(370 222.2) scale(0.94 1)" font-size="5.99" text-anchor="middle" font-weight="bold">**</text>
<path d="M387.5,246.1 Q387.5,244.5 388.5,244.5 L396.5,244.5 Q397.5,244.5 397.5,246.1" stroke="#000" stroke-width="0.95" fill="none"/>
<text transform="translate(392.5 244.9) scale(0.94 1)" font-size="5.99" text-anchor="middle" font-weight="bold">**</text>
<path d="M409.5,251.1 Q409.5,249.5 410.5,249.5 L418.5,249.5 Q419.5,249.5 419.5,251.1" stroke="#000" stroke-width="0.95" fill="none"/>
<text transform="translate(414.5 249.9) scale(0.94 1)" font-size="5.99" text-anchor="middle" font-weight="bold">**</text>
<path d="M431.3,286.1 Q431.3,284.5 432.3,284.5 L440.3,284.5 Q441.3,284.5 441.3,286.1" stroke="#000" stroke-width="0.95" fill="none"/>
<text transform="translate(436.3 282.8) scale(0.94 1)" font-size="5.35" text-anchor="middle">ns</text>
<path d="M373.8,216.4 L373.8,214.6 L445,214.6" stroke="#333" stroke-width="1" fill="none"/>
<line stroke="#000" x1="397" y1="214.6" x2="397" y2="216.2" stroke-width="0.9"/>
<text transform="translate(397 215.6) scale(0.94 1)" font-size="5.99" text-anchor="middle" font-weight="bold">*</text>
<line stroke="#000" x1="419.5" y1="214.6" x2="419.5" y2="216.2" stroke-width="0.9"/>
<text transform="translate(419.5 215.6) scale(0.94 1)" font-size="5.99" text-anchor="middle" font-weight="bold">**</text>
<line stroke="#000" x1="441.3" y1="214.6" x2="441.3" y2="216.2" stroke-width="0.9"/>
<text transform="translate(441.3 215.6) scale(0.94 1)" font-size="5.99" text-anchor="middle" font-weight="bold">****</text>
<text transform="translate(374.65 295) rotate(-45) scale(0.94 1)" font-size="6.42" text-anchor="end">WT <tspan font-weight="bold">→</tspan> WT</text>
<text transform="translate(395.6 295) rotate(-45) scale(0.94 1)" font-size="6.42" text-anchor="end">WT<tspan font-weight="bold">→</tspan><tspan font-style="italic">Tlr4</tspan><tspan font-size="3.6" dy="-2">-/-</tspan></text>
<text transform="translate(416.9 295) rotate(-45) scale(0.94 1)" font-size="6.42" text-anchor="end"><tspan font-style="italic">Tlr4</tspan><tspan font-size="3.6" dy="-2">-/-</tspan><tspan dy="2"> </tspan><tspan font-weight="bold">→</tspan> WT</text>
<text transform="translate(437.9 295) rotate(-45) scale(0.94 1)" font-size="6.42" text-anchor="end"><tspan font-style="italic">Tlr4</tspan><tspan font-size="3.6" dy="-2">-/-</tspan><tspan dy="2"> </tspan><tspan font-weight="bold">→</tspan> <tspan font-style="italic">Tlr4</tspan><tspan font-size="3.6" dy="-2">-/-</tspan></text>
<rect x="449.6" y="217.2" width="6.2" height="6" fill="#17548e" stroke="#000" stroke-width="0.6"/>
<text transform="translate(457.8 222.7) scale(0.94 1)" font-size="6.74">PBS</text>
<rect x="449.6" y="226.2" width="6.2" height="6" fill="#c8143a" stroke="#000" stroke-width="0.6"/>
<text transform="translate(457.8 231.7) scale(0.94 1)" font-size="6.74">LPS</text>
<text x="5.7" y="333" font-size="11" font-weight="bold" stroke="#000" stroke-width="0.45">E</text>
<use href="#mouse" x="12.55" y="360.25"/>
<text transform="translate(85 336.6) scale(0.94 1)" font-size="6.42" text-anchor="middle">35µg LPS i.p.</text>
<text transform="translate(85 344.1) scale(0.94 1)" font-size="6.42" text-anchor="middle">or</text>
<text transform="translate(85 351) scale(0.94 1)" font-size="6.42" text-anchor="middle">PBS control i.p.</text>
<text transform="translate(155.7 336.6) scale(0.94 1)" font-size="6.42" text-anchor="middle">35µg LPS i.p.</text>
<text transform="translate(155.7 344.1) scale(0.94 1)" font-size="6.42" text-anchor="middle">or</text>
<text transform="translate(155.7 351) scale(0.94 1)" font-size="6.42" text-anchor="middle">PBS control i.p.</text>
<text transform="translate(228 336.6) scale(0.94 1)" font-size="6.42" text-anchor="middle">35µg LPS i.p.</text>
<text transform="translate(228 344.1) scale(0.94 1)" font-size="6.42" text-anchor="middle">or</text>
<text transform="translate(228 351) scale(0.94 1)" font-size="6.42" text-anchor="middle">PBS control i.p.</text>
<line stroke="#000" x1="64.5" y1="357" x2="64.5" y2="364.7"/>
<path d="M64.5,367.2 L63,364 L66,364 Z" fill="#000" stroke="none"/>
<line stroke="#000" x1="64.5" y1="374" x2="64.5" y2="376.4"/>
<text transform="translate(64.5 385) scale(0.94 1)" font-size="6.21" text-anchor="middle">0</text>
<line stroke="#000" x1="82.5" y1="357" x2="82.5" y2="364.7"/>
<path d="M82.5,367.2 L81,364 L84,364 Z" fill="#000" stroke="none"/>
<line stroke="#000" x1="82.5" y1="374" x2="82.5" y2="376.4"/>
<text transform="translate(82.5 385) scale(0.94 1)" font-size="6.21" text-anchor="middle">2</text>
<line stroke="#000" x1="100.75" y1="357" x2="100.75" y2="364.7"/>
<path d="M100.75,367.2 L99.25,364 L102.25,364 Z" fill="#000" stroke="none"/>
<line stroke="#000" x1="100.75" y1="374" x2="100.75" y2="376.4"/>
<text transform="translate(100.75 385) scale(0.94 1)" font-size="6.21" text-anchor="middle">4</text>
<line stroke="#000" x1="137" y1="357" x2="137" y2="364.7"/>
<path d="M137,367.2 L135.5,364 L138.5,364 Z" fill="#000" stroke="none"/>
<line stroke="#000" x1="137" y1="374" x2="137" y2="376.4"/>
<text transform="translate(137 385) scale(0.94 1)" font-size="6.21" text-anchor="middle">7</text>
<line stroke="#000" x1="155" y1="357" x2="155" y2="364.7"/>
<path d="M155,367.2 L153.5,364 L156.5,364 Z" fill="#000" stroke="none"/>
<line stroke="#000" x1="155" y1="374" x2="155" y2="376.4"/>
<text transform="translate(155 385) scale(0.94 1)" font-size="6.21" text-anchor="middle">9</text>
<line stroke="#000" x1="173.3" y1="357" x2="173.3" y2="364.7"/>
<path d="M173.3,367.2 L171.8,364 L174.8,364 Z" fill="#000" stroke="none"/>
<line stroke="#000" x1="173.3" y1="374" x2="173.3" y2="376.4"/>
<text transform="translate(173.3 385) scale(0.94 1)" font-size="6.21" text-anchor="middle">11</text>
<line stroke="#000" x1="209.7" y1="357" x2="209.7" y2="364.7"/>
<path d="M209.7,367.2 L208.2,364 L211.2,364 Z" fill="#000" stroke="none"/>
<line stroke="#000" x1="209.7" y1="374" x2="209.7" y2="376.4"/>
<text transform="translate(209.7 385) scale(0.94 1)" font-size="6.21" text-anchor="middle">14</text>
<line stroke="#000" x1="227.7" y1="357" x2="227.7" y2="364.7"/>
<path d="M227.7,367.2 L226.2,364 L229.2,364 Z" fill="#000" stroke="none"/>
<line stroke="#000" x1="227.7" y1="374" x2="227.7" y2="376.4"/>
<text transform="translate(227.7 385) scale(0.94 1)" font-size="6.21" text-anchor="middle">16</text>
<line stroke="#000" x1="246" y1="357" x2="246" y2="364.7"/>
<path d="M246,367.2 L244.5,364 L247.5,364 Z" fill="#000" stroke="none"/>
<line stroke="#000" x1="246" y1="374" x2="246" y2="376.4"/>
<text transform="translate(246 385) scale(0.94 1)" font-size="6.21" text-anchor="middle">18</text>
<line stroke="#000" x1="64.5" y1="375.2" x2="256.7" y2="375.2"/>
<line stroke="#000" x1="256.7" y1="374" x2="256.7" y2="376.4"/>
<text transform="translate(253.5 385) scale(0.94 1)" font-size="6.21">19d</text>
<use href="#mouse" x="263.6" y="361"/>
<path d="M296.5,353.5 A28.52,28.52 0 0 1 329.9,352.2" stroke="#000" stroke-width="0.9" fill="none"/>
<path d="M331.5,353.5 L327.68,352.55 L329.64,350.03 Z" fill="#000" stroke="none"/>
<text transform="translate(327.5 362.3) scale(0.94 1)" font-size="6.42">Plasma</text>
<text transform="translate(327.5 369.8) scale(0.94 1)" font-size="6.42">BM lysate</text>
<line stroke="#000" x1="327.5" y1="375" x2="358.5" y2="375"/>
<path d="M361,375 L357.8,373.5 L357.8,376.5 Z" fill="#000" stroke="none"/>
<text transform="translate(362.6 377.2) scale(0.94 1)" font-size="6.42">ELISA</text>
<text x="5.7" y="416.3" font-size="11" font-weight="bold" stroke="#000" stroke-width="0.45">F</text>
<text transform="translate(71.3 415.1) scale(0.94 1)" font-size="6.42" text-anchor="middle">IL-6 in plasma</text>
<text transform="translate(13.85 471.4) rotate(-90)" font-size="6.21" text-anchor="middle" stroke="#000" stroke-width="0.12" textLength="23.4" lengthAdjust="spacingAndGlyphs">IL-6 (pg/ml)</text>
<line x1="51.8" y1="443.8" x2="51.8" y2="507.5" stroke="#888" stroke-dasharray="3,2.1"/>
<line x1="73.3" y1="443.8" x2="73.3" y2="507.5" stroke="#888" stroke-dasharray="3,2.1"/>
<line x1="94.3" y1="443.8" x2="94.3" y2="507.5" stroke="#888" stroke-dasharray="3,2.1"/>
<rect x="32.6" y="507.2" width="5.6" height="0.3" fill="#17548e" stroke="#000" stroke-width="0.8"/>
<line x1="43.8" y1="458.8" x2="43.8" y2="448.8" stroke="#222" stroke-width="0.9"/>
<line x1="41.6" y1="448.8" x2="46" y2="448.8" stroke="#222" stroke-width="1"/>
<rect x="40.8" y="459" width="6" height="48.5" fill="#c8143a" stroke="#000" stroke-width="0.8"/>
<rect x="54.2" y="507.6" width="5.4" height="0.3" fill="#17548e" stroke="#000" stroke-width="0.8"/>
<line x1="66.05" y1="502.5" x2="66.05" y2="501.2" stroke="#222" stroke-width="0.9"/>
<line x1="63.85" y1="501.2" x2="68.25" y2="501.2" stroke="#222" stroke-width="1"/>
<rect x="63.3" y="502.7" width="5.5" height="4.8" fill="#c8143a" stroke="#000" stroke-width="0.8"/>
<line x1="80.1" y1="506" x2="80.1" y2="505.2" stroke="#222" stroke-width="0.9"/>
<line x1="77.9" y1="505.2" x2="82.3" y2="505.2" stroke="#222" stroke-width="1"/>
<rect x="77.5" y="506.2" width="5.2" height="1.3" fill="#17548e" stroke="#000" stroke-width="0.8"/>
<line x1="88.4" y1="443.3" x2="88.4" y2="435.8" stroke="#222" stroke-width="0.9"/>
<line x1="86.2" y1="435.8" x2="90.6" y2="435.8" stroke="#222" stroke-width="1"/>
<rect x="85.5" y="443.5" width="5.8" height="64" fill="#c8143a" stroke="#000" stroke-width="0.8"/>
<rect x="97.5" y="507.6" width="5.5" height="0.3" fill="#17548e" stroke="#000" stroke-width="0.8"/>
<rect x="106.5" y="507.2" width="5.5" height="0.3" fill="#c8143a" stroke="#000" stroke-width="0.8"/>
<line stroke="#000" x1="31.5" y1="433.3" x2="31.5" y2="507.5" stroke-width="1"/>
<line stroke="#000" x1="29.5" y1="433.8" x2="31.5" y2="433.8" stroke-width="0.9"/>
<text x="28.7" y="436.05" font-size="6.31" text-anchor="end">600</text>
<line stroke="#000" x1="29.5" y1="446.08" x2="31.5" y2="446.08" stroke-width="0.9"/>
<text x="28.7" y="448.33" font-size="6.31" text-anchor="end">500</text>
<line stroke="#000" x1="29.5" y1="458.37" x2="31.5" y2="458.37" stroke-width="0.9"/>
<text x="28.7" y="460.62" font-size="6.31" text-anchor="end">400</text>
<line stroke="#000" x1="29.5" y1="470.65" x2="31.5" y2="470.65" stroke-width="0.9"/>
<text x="28.7" y="472.9" font-size="6.31" text-anchor="end">300</text>
<line stroke="#000" x1="29.5" y1="482.93" x2="31.5" y2="482.93" stroke-width="0.9"/>
<text x="28.7" y="485.18" font-size="6.31" text-anchor="end">200</text>
<line stroke="#000" x1="29.5" y1="495.22" x2="31.5" y2="495.22" stroke-width="0.9"/>
<text x="28.7" y="497.47" font-size="6.31" text-anchor="end">100</text>
<line stroke="#000" x1="30" y1="507.5" x2="115.2" y2="507.5" stroke-width="1"/>
<line stroke="#000" x1="51.5" y1="507.5" x2="51.5" y2="510.5" stroke-width="0.9"/>
<line stroke="#000" x1="73.5" y1="507.5" x2="73.5" y2="510.5" stroke-width="0.9"/>
<line stroke="#000" x1="94.5" y1="507.5" x2="94.5" y2="510.5" stroke-width="0.9"/>
<line stroke="#000" x1="115.5" y1="507.5" x2="115.5" y2="510.5" stroke-width="0.9"/>
<path d="M35.8,446.6 Q35.8,445 36.8,445 L42.8,445 Q43.8,445 43.8,446.6" stroke="#000" stroke-width="0.95" fill="none"/>
<text transform="translate(39.8 445.4) scale(0.94 1)" font-size="5.99" text-anchor="middle" font-weight="bold">*</text>
<path d="M58,499.9 Q58,498.3 59,498.3 L65.3,498.3 Q66.3,498.3 66.3,499.9" stroke="#000" stroke-width="0.95" fill="none"/>
<text transform="translate(62.15 496.6) scale(0.94 1)" font-size="5.35" text-anchor="middle">ns</text>
<path d="M80,434 Q80,432.4 81,432.4 L87.8,432.4 Q88.8,432.4 88.8,434" stroke="#000" stroke-width="0.95" fill="none"/>
<text transform="translate(84.4 432.8) scale(0.94 1)" font-size="5.99" text-anchor="middle" font-weight="bold">*</text>
<path d="M103,504.2 Q103,502.6 104,502.6 L110.3,502.6 Q111.3,502.6 111.3,504.2" stroke="#000" stroke-width="0.95" fill="none"/>
<text transform="translate(107.15 500.9) scale(0.94 1)" font-size="5.35" text-anchor="middle">ns</text>
<path d="M43.8,427.9 L43.8,426.1 L111.3,426.1 L111.3,427.9" stroke="#333" stroke-width="1" fill="none"/>
<line stroke="#000" x1="66.3" y1="426.1" x2="66.3" y2="427.7" stroke-width="0.9"/>
<text transform="translate(66.3 425.5) scale(0.94 1)" font-size="5.99" text-anchor="middle" font-weight="bold">*</text>
<line stroke="#000" x1="88.8" y1="426.1" x2="88.8" y2="427.7" stroke-width="0.9"/>
<text transform="translate(88.8 423.5) scale(0.94 1)" font-size="5.56" text-anchor="middle">ns</text>
<line stroke="#000" x1="110.5" y1="426.1" x2="110.5" y2="427.7" stroke-width="0.9"/>
<text transform="translate(110.5 425.5) scale(0.94 1)" font-size="5.99" text-anchor="middle" font-weight="bold">**</text>
<text transform="translate(44.4 515.5) rotate(-45) scale(0.94 1)" font-size="6.42" text-anchor="end">WT <tspan font-weight="bold">→</tspan> WT</text>
<text transform="translate(65.55 515.5) rotate(-45) scale(0.94 1)" font-size="6.42" text-anchor="end">WT <tspan font-weight="bold">→</tspan> <tspan font-style="italic">Tlr4</tspan><tspan font-size="3.6" dy="-2">-/-</tspan></text>
<text transform="translate(86.8 515.5) rotate(-45) scale(0.94 1)" font-size="6.42" text-anchor="end"><tspan font-style="italic">Tlr4</tspan><tspan font-size="3.6" dy="-2">-/-</tspan><tspan dy="2"> </tspan><tspan font-weight="bold">→</tspan> WT</text>
<text transform="translate(107.75 515.5) rotate(-45) scale(0.94 1)" font-size="6.42" text-anchor="end"><tspan font-style="italic">Tlr4</tspan><tspan font-size="3.6" dy="-2">-/-</tspan><tspan dy="2"> </tspan><tspan font-weight="bold">→</tspan> <tspan font-style="italic">Tlr4</tspan><tspan font-size="3.6" dy="-2">-/-</tspan></text>
<text transform="translate(190 415.1) scale(0.94 1)" font-size="6.42" text-anchor="middle">IL-6 in BM lysate</text>
<text transform="translate(128.8 471.8) rotate(-90)" font-size="6.21" text-anchor="middle" stroke="#000" stroke-width="0.12" textLength="23.4" lengthAdjust="spacingAndGlyphs">IL-6 (pg/ml)</text>
<line x1="170" y1="443.8" x2="170" y2="507.5" stroke="#888" stroke-dasharray="3,2.1"/>
<line x1="190.8" y1="443.8" x2="190.8" y2="507.5" stroke="#888" stroke-dasharray="3,2.1"/>
<line x1="212.5" y1="443.8" x2="212.5" y2="507.5" stroke="#888" stroke-dasharray="3,2.1"/>
<line x1="153.55" y1="500" x2="153.55" y2="496.3" stroke="#222" stroke-width="0.9"/>
<line x1="151.35" y1="496.3" x2="155.75" y2="496.3" stroke="#222" stroke-width="1"/>
<rect x="150.8" y="500.2" width="5.5" height="7.3" fill="#17548e" stroke="#000" stroke-width="0.8"/>
<line x1="162.25" y1="451.3" x2="162.25" y2="440.5" stroke="#222" stroke-width="0.9"/>
<line x1="160.05" y1="440.5" x2="164.45" y2="440.5" stroke="#222" stroke-width="1"/>
<rect x="159.5" y="451.5" width="5.5" height="56" fill="#c8143a" stroke="#000" stroke-width="0.8"/>
<line x1="176.05" y1="498" x2="176.05" y2="495.5" stroke="#222" stroke-width="0.9"/>
<line x1="173.85" y1="495.5" x2="178.25" y2="495.5" stroke="#222" stroke-width="1"/>
<rect x="173.3" y="498.2" width="5.5" height="9.3" fill="#17548e" stroke="#000" stroke-width="0.8"/>
<line x1="184.15" y1="489.3" x2="184.15" y2="486.3" stroke="#222" stroke-width="0.9"/>
<line x1="181.95" y1="486.3" x2="186.35" y2="486.3" stroke="#222" stroke-width="1"/>
<rect x="181.3" y="489.5" width="5.7" height="18" fill="#c8143a" stroke="#000" stroke-width="0.8"/>
<line x1="197.75" y1="496.8" x2="197.75" y2="496.3" stroke="#222" stroke-width="0.9"/>
<line x1="195.55" y1="496.3" x2="199.95" y2="496.3" stroke="#222" stroke-width="1"/>
<rect x="195" y="497" width="5.5" height="10.5" fill="#17548e" stroke="#000" stroke-width="0.8"/>
<line x1="206.65" y1="467" x2="206.65" y2="459.5" stroke="#222" stroke-width="0.9"/>
<line x1="204.45" y1="459.5" x2="208.85" y2="459.5" stroke="#222" stroke-width="1"/>
<rect x="203.8" y="467.2" width="5.7" height="40.3" fill="#c8143a" stroke="#000" stroke-width="0.8"/>
<line x1="220.4" y1="490" x2="220.4" y2="486.3" stroke="#222" stroke-width="0.9"/>
<line x1="218.2" y1="486.3" x2="222.6" y2="486.3" stroke="#222" stroke-width="1"/>
<rect x="217.5" y="490.2" width="5.8" height="17.3" fill="#17548e" stroke="#000" stroke-width="0.8"/>
<line x1="229.05" y1="485.5" x2="229.05" y2="484.3" stroke="#222" stroke-width="0.9"/>
<line x1="226.85" y1="484.3" x2="231.25" y2="484.3" stroke="#222" stroke-width="1"/>
<rect x="226.3" y="485.7" width="5.5" height="21.8" fill="#c8143a" stroke="#000" stroke-width="0.8"/>
<line stroke="#000" x1="149.5" y1="433.8" x2="149.5" y2="507.5" stroke-width="1"/>
<line stroke="#000" x1="147.5" y1="434.3" x2="149.5" y2="434.3" stroke-width="0.9"/>
<text x="146.7" y="436.55" font-size="6.31" text-anchor="end">200</text>
<line stroke="#000" x1="147.5" y1="452.6" x2="149.5" y2="452.6" stroke-width="0.9"/>
<text x="146.7" y="454.85" font-size="6.31" text-anchor="end">150</text>
<line stroke="#000" x1="147.5" y1="470.9" x2="149.5" y2="470.9" stroke-width="0.9"/>
<text x="146.7" y="473.15" font-size="6.31" text-anchor="end">100</text>
<line stroke="#000" x1="147.5" y1="489.2" x2="149.5" y2="489.2" stroke-width="0.9"/>
<text x="146.7" y="491.45" font-size="6.31" text-anchor="end">50</text>
<line stroke="#000" x1="148" y1="507.5" x2="234" y2="507.5" stroke-width="1"/>
<line stroke="#000" x1="170.5" y1="507.5" x2="170.5" y2="510.5" stroke-width="0.9"/>
<line stroke="#000" x1="190.5" y1="507.5" x2="190.5" y2="510.5" stroke-width="0.9"/>
<line stroke="#000" x1="212.5" y1="507.5" x2="212.5" y2="510.5" stroke-width="0.9"/>
<line stroke="#000" x1="234.5" y1="507.5" x2="234.5" y2="510.5" stroke-width="0.9"/>
<path d="M153.3,437.4 Q153.3,435.8 154.3,435.8 L161,435.8 Q162,435.8 162,437.4" stroke="#000" stroke-width="0.95" fill="none"/>
<text transform="translate(157.65 436.2) scale(0.94 1)" font-size="5.99" text-anchor="middle" font-weight="bold">*</text>
<path d="M176.3,482.9 Q176.3,481.3 177.3,481.3 L183.5,481.3 Q184.5,481.3 184.5,482.9" stroke="#000" stroke-width="0.95" fill="none"/>
<text transform="translate(180.4 479.6) scale(0.94 1)" font-size="5.35" text-anchor="middle">ns</text>
<path d="M198.3,457.9 Q198.3,456.3 199.3,456.3 L205.3,456.3 Q206.3,456.3 206.3,457.9" stroke="#000" stroke-width="0.95" fill="none"/>
<text transform="translate(202.3 456.7) scale(0.94 1)" font-size="5.99" text-anchor="middle" font-weight="bold">*</text>
<path d="M220.8,482.1 Q220.8,480.5 221.8,480.5 L228.3,480.5 Q229.3,480.5 229.3,482.1" stroke="#000" stroke-width="0.95" fill="none"/>
<text transform="translate(225.05 478.8) scale(0.94 1)" font-size="5.35" text-anchor="middle">ns</text>
<path d="M161.3,427.9 L161.3,426.1 L229.5,426.1 L229.5,427.9" stroke="#333" stroke-width="1" fill="none"/>
<line stroke="#000" x1="184.5" y1="426.1" x2="184.5" y2="427.7" stroke-width="0.9"/>
<text transform="translate(184.5 425.5) scale(0.94 1)" font-size="5.99" text-anchor="middle" font-weight="bold">*</text>
<line stroke="#000" x1="207" y1="426.1" x2="207" y2="427.7" stroke-width="0.9"/>
<text transform="translate(207 423.5) scale(0.94 1)" font-size="5.56" text-anchor="middle">ns</text>
<line stroke="#000" x1="229" y1="426.1" x2="229" y2="427.7" stroke-width="0.9"/>
<text transform="translate(229 425.5) scale(0.94 1)" font-size="5.99" text-anchor="middle" font-weight="bold">*</text>
<text transform="translate(162.5 515.5) rotate(-45) scale(0.94 1)" font-size="6.42" text-anchor="end">WT <tspan font-weight="bold">→</tspan> WT</text>
<text transform="translate(183.4 515.5) rotate(-45) scale(0.94 1)" font-size="6.42" text-anchor="end">WT<tspan font-weight="bold">→</tspan><tspan font-style="italic">Tlr4</tspan><tspan font-size="3.6" dy="-2">-/-</tspan></text>
<text transform="translate(204.65 515.5) rotate(-45) scale(0.94 1)" font-size="6.42" text-anchor="end"><tspan font-style="italic">Tlr4</tspan><tspan font-size="3.6" dy="-2">-/-</tspan><tspan dy="2"> </tspan><tspan font-weight="bold">→</tspan> WT</text>
<text transform="translate(226.25 515.5) rotate(-45) scale(0.94 1)" font-size="6.42" text-anchor="end"><tspan font-style="italic">Tlr4</tspan><tspan font-size="3.6" dy="-2">-/-</tspan><tspan dy="2"> </tspan><tspan font-weight="bold">→</tspan> <tspan font-style="italic">Tlr4</tspan><tspan font-size="3.6" dy="-2">-/-</tspan></text>
<rect x="233" y="432.5" width="6.2" height="6" fill="#17548e" stroke="#000" stroke-width="0.6"/>
<text transform="translate(241.2 438) scale(0.94 1)" font-size="6.74">PBS</text>
<rect x="233" y="441.5" width="6.2" height="6" fill="#c8143a" stroke="#000" stroke-width="0.6"/>
<text transform="translate(241.2 447) scale(0.94 1)" font-size="6.74">LPS</text>
<text x="265" y="416.3" font-size="11" font-weight="bold" stroke="#000" stroke-width="0.45">G</text>
<text transform="translate(319.3 415.1) scale(0.94 1)" font-size="6.42" text-anchor="middle">IL-6 in plasma</text>
<text transform="translate(276.6 471) rotate(-90)" font-size="6.21" text-anchor="middle" stroke="#000" stroke-width="0.12" textLength="23.4" lengthAdjust="spacingAndGlyphs">IL-6 (pg/ml)</text>
<line x1="320.6" y1="432.5" x2="320.6" y2="507.5" stroke="#888" stroke-dasharray="3,2.1"/>
<line x1="312.4" y1="463.8" x2="312.4" y2="450.5" stroke="#222" stroke-width="0.9"/>
<line x1="310.2" y1="450.5" x2="314.6" y2="450.5" stroke="#222" stroke-width="1"/>
<rect x="309.3" y="464" width="6.2" height="43.5" fill="#c8143a" stroke="#000" stroke-width="0.8"/>
<rect x="328" y="507.8" width="5.5" height="0.3" fill="#17548e" stroke="#000" stroke-width="0.8"/>
<line x1="340.15" y1="468.3" x2="340.15" y2="463.3" stroke="#222" stroke-width="0.9"/>
<line x1="337.95" y1="463.3" x2="342.35" y2="463.3" stroke="#222" stroke-width="1"/>
<rect x="337" y="468.5" width="6.3" height="39" fill="#c8143a" stroke="#000" stroke-width="0.8"/>
<line stroke="#000" x1="296.5" y1="433.3" x2="296.5" y2="507.5" stroke-width="1"/>
<line stroke="#000" x1="294.5" y1="433.8" x2="296.5" y2="433.8" stroke-width="0.9"/>
<text x="293.7" y="436.05" font-size="6.31" text-anchor="end">400</text>
<line stroke="#000" x1="294.5" y1="452.23" x2="296.5" y2="452.23" stroke-width="0.9"/>
<text x="293.7" y="454.48" font-size="6.31" text-anchor="end">300</text>
<line stroke="#000" x1="294.5" y1="470.65" x2="296.5" y2="470.65" stroke-width="0.9"/>
<text x="293.7" y="472.9" font-size="6.31" text-anchor="end">200</text>
<line stroke="#000" x1="294.5" y1="489.07" x2="296.5" y2="489.07" stroke-width="0.9"/>
<text x="293.7" y="491.32" font-size="6.31" text-anchor="end">100</text>
<line stroke="#000" x1="295" y1="507.5" x2="346.5" y2="507.5" stroke-width="1"/>
<line stroke="#000" x1="320.5" y1="507.5" x2="320.5" y2="510.5" stroke-width="0.9"/>
<line stroke="#000" x1="346.5" y1="507.5" x2="346.5" y2="510.5" stroke-width="0.9"/>
<path d="M301.3,447.9 Q301.3,446.3 302.3,446.3 L309.8,446.3 Q310.8,446.3 310.8,447.9" stroke="#000" stroke-width="0.95" fill="none"/>
<text transform="translate(306.05 444.6) scale(0.94 1)" font-size="5.35" text-anchor="middle">ns</text>
<path d="M329.3,461.6 Q329.3,460 330.3,460 L339.5,460 Q340.5,460 340.5,461.6" stroke="#000" stroke-width="0.95" fill="none"/>
<text transform="translate(334.9 458.3) scale(0.94 1)" font-size="5.35" text-anchor="middle">ns</text>
<path d="M312,432.1 Q312,430.5 313,430.5 L339.8,430.5 Q340.8,430.5 340.8,432.1" stroke="#3a6fa8" stroke-width="0.95" fill="none"/>
<text transform="translate(326.4 428.8) scale(0.94 1)" font-size="5.35" text-anchor="middle" fill="#3a6fa8">ns</text>
<text transform="translate(308.8 517.3) scale(0.94 1)" font-size="5.99" text-anchor="middle">Control</text>
<text transform="translate(336.3 517.3) scale(0.94 1)" font-size="5.99" text-anchor="middle" font-style="italic">LeprCre;</text>
<text transform="translate(335 524.4) scale(0.94 1)" font-size="5.99" text-anchor="middle"><tspan font-style="italic">Tlr4</tspan><tspan font-size="3.6" dy="-2">fl/fl</tspan></text>
<text transform="translate(413 415.1) scale(0.94 1)" font-size="6.42" text-anchor="middle">IL-6 in BM lysate</text>
<text transform="translate(370.7 471.3) rotate(-90)" font-size="6.21" text-anchor="middle" stroke="#000" stroke-width="0.12" textLength="23.4" lengthAdjust="spacingAndGlyphs">IL-6 (pg/ml)</text>
<line x1="413.3" y1="432.5" x2="413.3" y2="507.5" stroke="#888" stroke-dasharray="3,2.1"/>
<line x1="395" y1="495.5" x2="395" y2="494.5" stroke="#222" stroke-width="0.9"/>
<line x1="392.8" y1="494.5" x2="397.2" y2="494.5" stroke="#222" stroke-width="1"/>
<rect x="392" y="495.7" width="6" height="11.8" fill="#17548e" stroke="#000" stroke-width="0.8"/>
<line x1="405.4" y1="470" x2="405.4" y2="459.3" stroke="#222" stroke-width="0.9"/>
<line x1="403.2" y1="459.3" x2="407.6" y2="459.3" stroke="#222" stroke-width="1"/>
<rect x="402.5" y="470.2" width="5.8" height="37.3" fill="#c8143a" stroke="#000" stroke-width="0.8"/>
<line x1="422.65" y1="498.3" x2="422.65" y2="496.8" stroke="#222" stroke-width="0.9"/>
<line x1="420.45" y1="496.8" x2="424.85" y2="496.8" stroke="#222" stroke-width="1"/>
<rect x="419.5" y="498.5" width="6.3" height="9" fill="#17548e" stroke="#000" stroke-width="0.8"/>
<line x1="432.9" y1="483.3" x2="432.9" y2="475.8" stroke="#222" stroke-width="0.9"/>
<line x1="430.7" y1="475.8" x2="435.1" y2="475.8" stroke="#222" stroke-width="1"/>
<rect x="430" y="483.5" width="5.8" height="24" fill="#c8143a" stroke="#000" stroke-width="0.8"/>
<line stroke="#000" x1="390.5" y1="433.3" x2="390.5" y2="507.5" stroke-width="1"/>
<line stroke="#000" x1="388.5" y1="433.8" x2="390.5" y2="433.8" stroke-width="0.9"/>
<text x="387.7" y="436.05" font-size="6.31" text-anchor="end">150</text>
<line stroke="#000" x1="388.5" y1="458.37" x2="390.5" y2="458.37" stroke-width="0.9"/>
<text x="387.7" y="460.62" font-size="6.31" text-anchor="end">100</text>
<line stroke="#000" x1="388.5" y1="482.93" x2="390.5" y2="482.93" stroke-width="0.9"/>
<text x="387.7" y="485.18" font-size="6.31" text-anchor="end">50</text>
<line stroke="#000" x1="389" y1="507.5" x2="439.3" y2="507.5" stroke-width="1"/>
<line stroke="#000" x1="413.5" y1="507.5" x2="413.5" y2="510.5" stroke-width="0.9"/>
<line stroke="#000" x1="439.5" y1="507.5" x2="439.5" y2="510.5" stroke-width="0.9"/>
<path d="M394.3,456.6 Q394.3,455 395.3,455 L404,455 Q405,455 405,456.6" stroke="#000" stroke-width="0.95" fill="none"/>
<text transform="translate(399.65 453.3) scale(0.94 1)" font-size="5.35" text-anchor="middle">ns</text>
<path d="M422,474.1 Q422,472.5 423,472.5 L432,472.5 Q433,472.5 433,474.1" stroke="#000" stroke-width="0.95" fill="none"/>
<text transform="translate(427.5 470.8) scale(0.94 1)" font-size="5.35" text-anchor="middle">ns</text>
<path d="M405,432.9 Q405,431.3 406,431.3 L432.3,431.3 Q433.3,431.3 433.3,432.9" stroke="#3a6fa8" stroke-width="0.95" fill="none"/>
<text transform="translate(419.15 429.6) scale(0.94 1)" font-size="5.35" text-anchor="middle" fill="#3a6fa8">ns</text>
<text transform="translate(400.5 517.3) scale(0.94 1)" font-size="5.99" text-anchor="middle">Control</text>
<text transform="translate(426.3 517.3) scale(0.94 1)" font-size="5.99" text-anchor="middle" font-style="italic">LeprCre;</text>
<text transform="translate(425 524.4) scale(0.94 1)" font-size="5.99" text-anchor="middle"><tspan font-style="italic">Tlr4</tspan><tspan font-size="3.6" dy="-2">fl/fl</tspan></text>
<rect x="450.8" y="432.5" width="6.2" height="6" fill="#17548e" stroke="#000" stroke-width="0.6"/>
<text transform="translate(459 438) scale(0.94 1)" font-size="6.74">PBS</text>
<rect x="450.8" y="441.5" width="6.2" height="6" fill="#c8143a" stroke="#000" stroke-width="0.6"/>
<text transform="translate(459 447) scale(0.94 1)" font-size="6.74">LPS</text>
<text x="5.7" y="557" font-size="11" font-weight="bold" stroke="#000" stroke-width="0.45">H</text>
<text transform="translate(54.5 557.1) scale(0.94 1)" font-size="6.42" text-anchor="middle">IL-6 in plasma</text>
<text transform="translate(14 610.4) rotate(-90)" font-size="6.21" text-anchor="middle" stroke="#000" stroke-width="0.12" textLength="23.4" lengthAdjust="spacingAndGlyphs">IL-6 (pg/ml)</text>
<line x1="55.6" y1="571" x2="55.6" y2="647.2" stroke="#888" stroke-dasharray="3,2.1"/>
<rect x="33" y="646.8" width="5.5" height="0.4" fill="#17548e" stroke="#000" stroke-width="0.8"/>
<line x1="47.15" y1="595" x2="47.15" y2="588.8" stroke="#222" stroke-width="0.9"/>
<line x1="44.95" y1="588.8" x2="49.35" y2="588.8" stroke="#222" stroke-width="1"/>
<rect x="44.3" y="595.2" width="5.7" height="52" fill="#c8143a" stroke="#000" stroke-width="0.8"/>
<rect x="61.5" y="646.8" width="5.5" height="0.4" fill="#17548e" stroke="#000" stroke-width="0.8"/>
<line x1="74.75" y1="609.5" x2="74.75" y2="604.5" stroke="#222" stroke-width="0.9"/>
<line x1="72.55" y1="604.5" x2="76.95" y2="604.5" stroke="#222" stroke-width="1"/>
<rect x="72" y="609.7" width="5.5" height="37.5" fill="#c8143a" stroke="#000" stroke-width="0.8"/>
<line stroke="#000" x1="31.5" y1="572.5" x2="31.5" y2="647.2" stroke-width="1"/>
<line stroke="#000" x1="29.5" y1="573" x2="31.5" y2="573" stroke-width="0.9"/>
<text x="28.7" y="575.25" font-size="6.31" text-anchor="end">300</text>
<line stroke="#000" x1="29.5" y1="597.73" x2="31.5" y2="597.73" stroke-width="0.9"/>
<text x="28.7" y="599.98" font-size="6.31" text-anchor="end">200</text>
<line stroke="#000" x1="29.5" y1="622.47" x2="31.5" y2="622.47" stroke-width="0.9"/>
<text x="28.7" y="624.72" font-size="6.31" text-anchor="end">100</text>
<line stroke="#000" x1="30" y1="647.5" x2="80.5" y2="647.5" stroke-width="1"/>
<line stroke="#000" x1="55.5" y1="647.5" x2="55.5" y2="650.5" stroke-width="0.9"/>
<line stroke="#000" x1="80.5" y1="647.5" x2="80.5" y2="650.5" stroke-width="0.9"/>
<path d="M36.3,586.6 Q36.3,585 37.3,585 L46,585 Q47,585 47,586.6" stroke="#000" stroke-width="0.95" fill="none"/>
<text transform="translate(41.65 583.3) scale(0.94 1)" font-size="5.35" text-anchor="middle">ns</text>
<path d="M63.8,601.6 Q63.8,600 64.8,600 L74,600 Q75,600 75,601.6" stroke="#000" stroke-width="0.95" fill="none"/>
<text transform="translate(69.4 598.3) scale(0.94 1)" font-size="5.35" text-anchor="middle">ns</text>
<path d="M46.8,571.6 Q46.8,570 47.8,570 L73.5,570 Q74.5,570 74.5,571.6" stroke="#3a6fa8" stroke-width="0.95" fill="none"/>
<text transform="translate(60.65 568.3) scale(0.94 1)" font-size="5.35" text-anchor="middle" fill="#3a6fa8">ns</text>
<text transform="translate(44.5 655.7) scale(0.94 1)" font-size="5.99" text-anchor="middle">Control</text>
<text transform="translate(68.8 655.7) scale(0.94 1)" font-size="5.99" text-anchor="middle" font-style="italic">LeprCre;</text>
<text transform="translate(67.5 662.6) scale(0.94 1)" font-size="5.99" text-anchor="middle"><tspan font-style="italic">Myd88</tspan><tspan font-size="3.6" dy="-2">fl/fl</tspan></text>
<text transform="translate(146.3 557) scale(0.94 1)" font-size="6.42" text-anchor="middle">IL-6 in BM lysate</text>
<text transform="translate(105.1 610.4) rotate(-90)" font-size="6.21" text-anchor="middle" stroke="#000" stroke-width="0.12" textLength="23.4" lengthAdjust="spacingAndGlyphs">IL-6 (pg/ml)</text>
<line x1="147.5" y1="571" x2="147.5" y2="647.2" stroke="#888" stroke-dasharray="3,2.1"/>
<line x1="129.4" y1="634.5" x2="129.4" y2="633.3" stroke="#222" stroke-width="0.9"/>
<line x1="127.2" y1="633.3" x2="131.6" y2="633.3" stroke="#222" stroke-width="1"/>
<rect x="126.3" y="634.7" width="6.2" height="12.5" fill="#17548e" stroke="#000" stroke-width="0.8"/>
<line x1="139.4" y1="610" x2="139.4" y2="593.3" stroke="#222" stroke-width="0.9"/>
<line x1="137.2" y1="593.3" x2="141.6" y2="593.3" stroke="#222" stroke-width="1"/>
<rect x="136.3" y="610.2" width="6.2" height="37" fill="#c8143a" stroke="#000" stroke-width="0.8"/>
<line x1="156.4" y1="636.8" x2="156.4" y2="636" stroke="#222" stroke-width="0.9"/>
<line x1="154.2" y1="636" x2="158.6" y2="636" stroke="#222" stroke-width="1"/>
<rect x="153.3" y="637" width="6.2" height="10.2" fill="#17548e" stroke="#000" stroke-width="0.8"/>
<line x1="166.9" y1="626.3" x2="166.9" y2="620.5" stroke="#222" stroke-width="0.9"/>
<line x1="164.7" y1="620.5" x2="169.1" y2="620.5" stroke="#222" stroke-width="1"/>
<rect x="163.8" y="626.5" width="6.2" height="20.7" fill="#c8143a" stroke="#000" stroke-width="0.8"/>
<line stroke="#000" x1="123.5" y1="572.5" x2="123.5" y2="647.2" stroke-width="1"/>
<line stroke="#000" x1="121.5" y1="573" x2="123.5" y2="573" stroke-width="0.9"/>
<text x="120.7" y="575.25" font-size="6.31" text-anchor="end">150</text>
<line stroke="#000" x1="121.5" y1="597.73" x2="123.5" y2="597.73" stroke-width="0.9"/>
<text x="120.7" y="599.98" font-size="6.31" text-anchor="end">100</text>
<line stroke="#000" x1="121.5" y1="622.47" x2="123.5" y2="622.47" stroke-width="0.9"/>
<text x="120.7" y="624.72" font-size="6.31" text-anchor="end">50</text>
<line stroke="#000" x1="122" y1="647.5" x2="172.5" y2="647.5" stroke-width="1"/>
<line stroke="#000" x1="147.5" y1="647.5" x2="147.5" y2="650.5" stroke-width="0.9"/>
<line stroke="#000" x1="172.5" y1="647.5" x2="172.5" y2="650.5" stroke-width="0.9"/>
<path d="M128.3,590.9 Q128.3,589.3 129.3,589.3 L137.8,589.3 Q138.8,589.3 138.8,590.9" stroke="#000" stroke-width="0.95" fill="none"/>
<text transform="translate(133.55 587.6) scale(0.94 1)" font-size="5.35" text-anchor="middle">ns</text>
<path d="M156.3,617.9 Q156.3,616.3 157.3,616.3 L165.8,616.3 Q166.8,616.3 166.8,617.9" stroke="#000" stroke-width="0.95" fill="none"/>
<text transform="translate(161.55 614.6) scale(0.94 1)" font-size="5.35" text-anchor="middle">ns</text>
<path d="M139.3,572.1 Q139.3,570.5 140.3,570.5 L166.5,570.5 Q167.5,570.5 167.5,572.1" stroke="#3a6fa8" stroke-width="0.95" fill="none"/>
<text transform="translate(153.4 568.8) scale(0.94 1)" font-size="5.35" text-anchor="middle" fill="#3a6fa8">ns</text>
<text transform="translate(135.8 655.7) scale(0.94 1)" font-size="5.99" text-anchor="middle">Control</text>
<text transform="translate(160.5 655.7) scale(0.94 1)" font-size="5.99" text-anchor="middle" font-style="italic">LeprCre;</text>
<text transform="translate(159.5 662.6) scale(0.94 1)" font-size="5.99" text-anchor="middle"><tspan font-style="italic">Myd88</tspan><tspan font-size="3.6" dy="-2">fl/fl</tspan></text>
<rect x="180" y="576.3" width="6.2" height="6" fill="#17548e" stroke="#000" stroke-width="0.6"/>
<text transform="translate(188.2 581.8) scale(0.94 1)" font-size="6.74">PBS</text>
<rect x="180" y="585.3" width="6.2" height="6" fill="#c8143a" stroke="#000" stroke-width="0.6"/>
<text transform="translate(188.2 590.8) scale(0.94 1)" font-size="6.74">LPS</text>
</g>
</svg>
</body></html>
